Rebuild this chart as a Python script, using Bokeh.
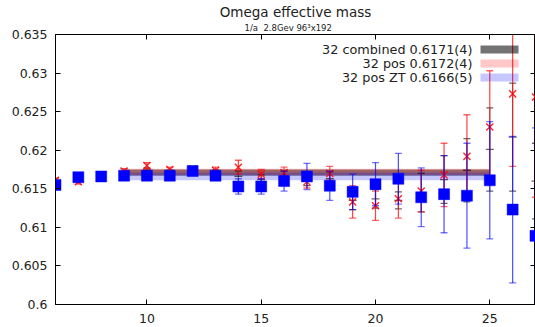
from bokeh.plotting import figure
from bokeh.models import (ColumnDataSource, Range1d, FixedTicker, CustomJSTickFormatter,
                          LinearAxis, Label, BoxAnnotation, Title)
from bokeh.embed import file_html
from bokeh.resources import INLINE

# ---------------- data ----------------
t = [6, 7, 8, 9, 10, 11, 12, 13, 14, 15, 16, 17, 18, 19, 20, 21, 22, 23, 24, 25, 26, 27]

zt_val = [0.6155, 0.6165, 0.6166, 0.6167, 0.6167, 0.6167, 0.6173, 0.6167, 0.6153, 0.6153, 0.6160,
          0.6166, 0.6154, 0.6146, 0.6156, 0.6163, 0.6139, 0.6143, 0.6141, 0.6161, 0.6123, 0.6089]
zt_err = [0.0003, 0.0003, 0.0003, 0.0003, 0.0003, 0.0004, 0.0004, 0.0004, 0.0010, 0.0010, 0.0013,
          0.0017, 0.0019, 0.0023, 0.0028, 0.0033, 0.0038, 0.0050, 0.0068, 0.0076, 0.0095, 0.0140]

pos_val = [0.6161, 0.6159, 0.6166, 0.6173, 0.6180, 0.6175, 0.6176, 0.6174, 0.6178, 0.6169, 0.6171,
           0.6159, 0.6170, 0.6133, 0.6128, 0.6137, 0.6147, 0.6168, 0.6192, 0.6230, 0.6273, 0.6269]
pos_err = [0.0003, 0.0003, 0.0003, 0.0003, 0.0004, 0.0003, 0.0003, 0.0004, 0.0009, 0.0006, 0.0007,
           0.0008, 0.0009, 0.0021, 0.0019, 0.0025, 0.0027, 0.0041, 0.0054, 0.0073, 0.0094, 0.0130]

comb_val = [0.6158, 0.6162, 0.6166, 0.6170, 0.6174, 0.6171, 0.6175, 0.6171, 0.6166, 0.6162, 0.6166,
            0.6162, 0.6163, 0.6135, 0.6137, 0.6135, 0.6145, 0.6162, 0.6174, 0.6201, 0.6217, 0.6160]
comb_err = [0.0002, 0.0002, 0.0002, 0.0002, 0.0003, 0.0003, 0.0003, 0.0003, 0.0007, 0.0006, 0.0007,
            0.0008, 0.0009, 0.0012, 0.0012, 0.0011, 0.0025, 0.0031, 0.0041, 0.0054, 0.0070, 0.0049]

fit_range = [9, 25]
fit_names = ["32 combined 0.6171(4)", "32 pos 0.6172(4)", "32 pos ZT 0.6166(5)"]
fit_val = [0.6171, 0.6172, 0.6166]
fit_err = [0.0004, 0.0004, 0.0005]

x_ticks = [10, 15, 20, 25]
y_ticks = [0.6, 0.605, 0.61, 0.615, 0.62, 0.625, 0.63, 0.635]

title_text = "Omega effective mass"
subtitle_text = "1/a\u00a0 2.8Gev 96\u00b3x192"

FONT = "DejaVu Sans"

# ---------------- figure ----------------
p = figure(width=535, height=327, output_backend="svg", toolbar_location=None, title=None,
           x_range=Range1d(6, 27), y_range=Range1d(0.6, 0.635),
           min_border_left=55, min_border_right=0, min_border_top=34, min_border_bottom=23)
p.xgrid.visible = False
p.ygrid.visible = False
p.outline_line_color = "black"
p.outline_line_width = 1
p.background_fill_color = "white"
p.border_fill_color = "white"

empty_fmt = CustomJSTickFormatter(code="return '';")

def style_axis(ax, show_labels=True, standoff=8):
    ax.axis_line_color = "black"
    ax.axis_line_width = 1
    ax.major_tick_in = 5
    ax.major_tick_out = 0
    ax.minor_tick_in = 0
    ax.minor_tick_out = 0
    ax.major_tick_line_color = "black"
    ax.major_label_text_font = FONT
    ax.major_label_text_color = "#222222"
    ax.major_label_standoff = standoff
    ax.major_label_text_font_size = "12.5px"
    if not show_labels:
        ax.formatter = empty_fmt
        ax.major_label_standoff = 0

fmt = CustomJSTickFormatter(code="return String(parseFloat(tick.toFixed(3)));")

p.xaxis.ticker = FixedTicker(ticks=x_ticks)
p.yaxis.ticker = FixedTicker(ticks=y_ticks)
p.yaxis.formatter = fmt
style_axis(p.xaxis[0], True, 9)
style_axis(p.yaxis[0], True, 8)

top_ax = LinearAxis(ticker=FixedTicker(ticks=x_ticks))
style_axis(top_ax, False)
p.add_layout(top_ax, "above")
right_ax = LinearAxis(ticker=FixedTicker(ticks=y_ticks))
style_axis(right_ax, False)
p.add_layout(right_ax, "right")

# titles (first added is nearest the frame)
p.add_layout(Title(text=subtitle_text, align="left", text_font=FONT, text_font_size="8.5px",
                   text_font_style="normal", text_color="#222222", standoff=3, offset=189), "above")
p.add_layout(Title(text=title_text, align="center", text_font=FONT, text_font_size="13.5px",
                   text_font_style="normal", text_color="#222222", standoff=0, offset=0), "above")

# ---------------- fit bands ----------------
band_colors = ["black", "red", "blue"]
band_alphas = [0.5, 0.22, 0.22]
band_src = ColumnDataSource(dict(
    left=[fit_range[0]] * 3, right=[fit_range[1]] * 3,
    bottom=[v - e for v, e in zip(fit_val, fit_err)],
    top=[v + e for v, e in zip(fit_val, fit_err)],
    color=band_colors, alpha=band_alphas))
p.quad(left="left", right="right", bottom="bottom", top="top", source=band_src,
       fill_color="color", fill_alpha="alpha", line_color=None)

# ---------------- series ----------------
def series_src(vals, errs):
    return ColumnDataSource(dict(t=t, v=vals,
                                 lo=[v - e for v, e in zip(vals, errs)],
                                 hi=[v + e for v, e in zip(vals, errs)]))

comb = series_src(comb_val, comb_err)
pos = series_src(pos_val, pos_err)
zt = series_src(zt_val, zt_err)

def bars(src, color, alpha, cap_alpha):
    p.segment(x0="t", x1="t", y0="lo", y1="hi", source=src, line_color=color,
              line_alpha=alpha, line_width=1.2)
    for col in ("lo", "hi"):
        p.scatter(x="t", y=col, source=src, marker="dash", size=7, line_color=color,
                  line_alpha=cap_alpha, line_width=1.3)

bars(comb, "black", 0.45, 0.6)
p.scatter(x="t", y="v", source=comb, marker="dash", size=8, line_color="black",
          line_alpha=0.6, line_width=1.3)

bars(pos, "red", 0.75, 0.6)
p.scatter(x="t", y="v", source=pos, marker="x", size=10, line_color="red",
          line_alpha=0.85, line_width=1.4)

bars(zt, "blue", 0.7, 0.55)
p.scatter(x="t", y="v", source=zt, marker="square", size=11, fill_color="blue",
          line_color="blue", line_width=0.5)

# ---------------- legend ----------------
legend_y = [255, 241, 227]
legend_swatch_alpha = [0.55, 0.22, 0.22]
for name, y, c, a in zip(fit_names, legend_y, band_colors, legend_swatch_alpha):
    p.add_layout(Label(x=417, y=y, x_units="screen", y_units="screen", text=name,
                       text_align="right", text_baseline="middle", text_font=FONT,
                       text_font_size="12.8px", text_color="#222222"))
    p.add_layout(BoxAnnotation(left=425, right=463, bottom=y - 4, top=y + 4,
                               left_units="screen", right_units="screen",
                               bottom_units="screen", top_units="screen",
                               fill_color=c, fill_alpha=a, line_color=None))

open("out.html", "w").write(file_html(p, INLINE))
